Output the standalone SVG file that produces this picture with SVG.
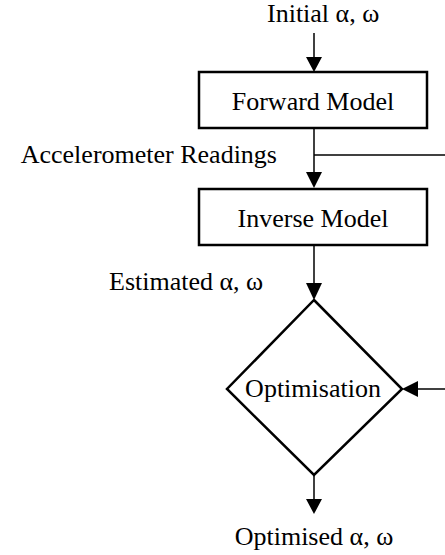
<svg xmlns="http://www.w3.org/2000/svg" width="445" height="555" viewBox="0 0 445 555">
<defs>
<style>
text{font-family:"Liberation Serif","Times New Roman",serif;font-size:26px;fill:#000}
.box{fill:#fff;stroke:#000;stroke-width:2.5}
.ln{fill:none;stroke:#000;stroke-width:1.5}
.ah{fill:#000}
</style>
</defs>
<rect width="445" height="555" fill="#fff"/>
<g id="connectors">
<line class="ln" x1="314" y1="33" x2="314" y2="58"/>
<polygon class="ah" points="306,57 322,57 314,72"/>
<line class="ln" x1="314" y1="128" x2="314" y2="173"/>
<line class="ln" x1="314" y1="155" x2="445" y2="155" stroke="#333"/>
<polygon class="ah" points="306,172 322,172 314,188"/>
<line class="ln" x1="314" y1="245" x2="314" y2="284"/>
<polygon class="ah" points="306,283 322,283 314,300"/>
<line class="ln" x1="445" y1="389" x2="417" y2="389"/>
<polygon class="ah" points="418,381 418,397 402,389"/>
<line class="ln" x1="314" y1="475" x2="314" y2="500"/>
<polygon class="ah" points="306,499 322,499 314,514"/>
</g>
<g id="initial"><text x="267" y="22">Initial α, ω</text></g>
<g id="forward-model">
<rect class="box" x="199" y="72" width="228" height="56"/>
<text x="313" y="110" text-anchor="middle">Forward Model</text>
</g>
<g id="accel"><text x="277" y="163" text-anchor="end">Accelerometer Readings</text></g>
<g id="inverse-model">
<rect class="box" x="199" y="189" width="228" height="56"/>
<text x="313" y="227" text-anchor="middle">Inverse Model</text>
</g>
<g id="estimated"><text x="109" y="290">Estimated α, ω</text></g>
<g id="optimisation">
<polygon class="box" points="314,300 402,389 314,475 227,389"/>
<text x="313" y="397" text-anchor="middle">Optimisation</text>
</g>
<g id="optimised"><text x="314" y="545" text-anchor="middle">Optimised α, ω</text></g>
</svg>
